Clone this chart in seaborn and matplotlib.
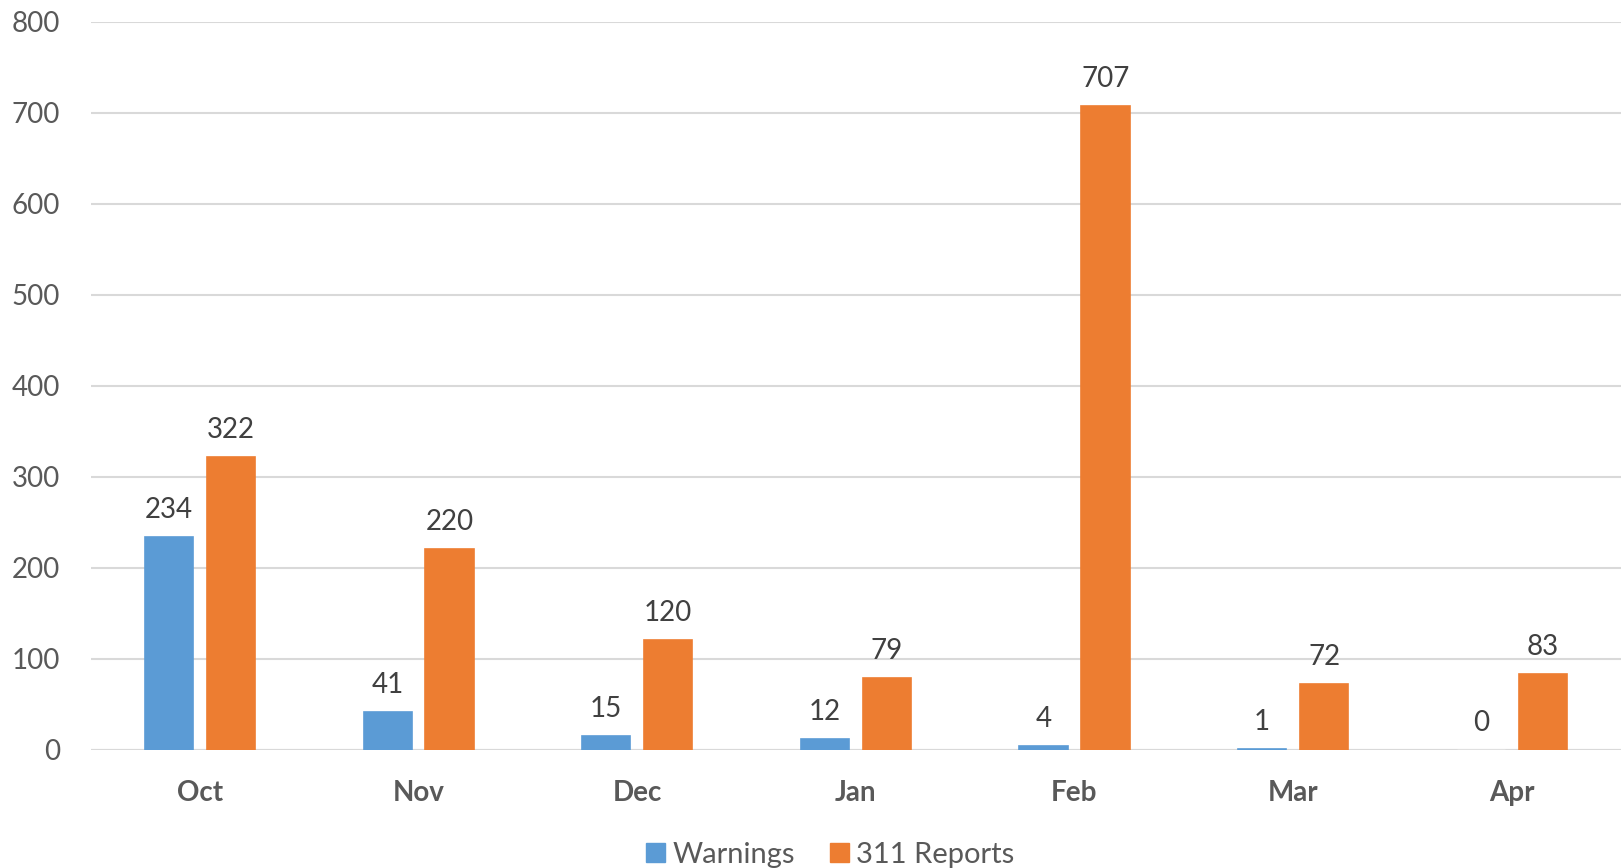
import pandas as pd
import matplotlib
matplotlib.use("Agg")
import matplotlib.pyplot as plt
import seaborn as sns

# -----------------------------------
# Data
# -----------------------------------

months = ["Oct", "Nov", "Dec", "Jan", "Feb", "Mar", "Apr"]
warnings = [234, 41, 15, 12, 4, 1, 0]
reports = [322, 220, 120, 79, 707, 72, 83]
series = ["Warnings", "311 Reports"]

df = pd.DataFrame({
    "Month": months * 2,
    "Count": warnings + reports,
    "Series": [series[0]] * len(months) + [series[1]] * len(months),
})

# -----------------------------------
# Style
# -----------------------------------

sns.set_style("white")
plt.rcParams["font.family"] = ["Lato", "DejaVu Sans"]

palette = {"Warnings": "#5B9BD5", "311 Reports": "#ED7D31"}

fig = plt.figure(figsize=(16.21, 8.68), dpi=100)
ax = fig.add_axes([0.056, 0.1365, 0.944, 0.8385])

sns.barplot(
    data=df,
    x="Month",
    y="Count",
    hue="Series",
    palette=palette,
    width=0.567,
    gap=0.22,
    saturation=1,
    ax=ax,
    legend=False,
)

# thin edge so the tiny bars (values 1 and 4) still show like in Excel
for cont in ax.containers:
    for bar in cont:
        if bar.get_height() > 0:
            bar.set_edgecolor(bar.get_facecolor())
            bar.set_linewidth(1.2)

ax.set_ylim(0, 800)
ax.set_xlim(-0.5, len(months) - 0.5)
ax.set_yticks(range(0, 801, 100))
ax.yaxis.grid(True, color="#D9D9D9", linewidth=1.5)
ax.set_axisbelow(True)
for side in ["top", "right", "left", "bottom"]:
    ax.spines[side].set_visible(False)
ax.axhline(0, color="#D9D9D9", linewidth=1.5, zorder=0)

ax.set_xlabel("")
ax.set_ylabel("")
ax.tick_params(axis="y", length=0, labelsize=20, labelcolor="#595959", pad=22)
ax.tick_params(axis="x", length=0, labelsize=20, labelcolor="#595959", pad=22)
for lbl in ax.get_xticklabels():
    lbl.set_fontweight("bold")

for cont in ax.containers:
    ax.bar_label(cont, padding=10, fontsize=20, color="#404040")

# Legend
handles = [plt.Rectangle((0, 0), 1, 1, color=palette[s]) for s in series]
fig.legend(
    handles, series,
    loc="lower center",
    bbox_to_anchor=(0.512, -0.03),
    ncol=2,
    frameon=False,
    fontsize=21,
    labelcolor="#595959",
    handlelength=0.65,
    handleheight=0.65,
    handletextpad=0.25,
    columnspacing=1.2,
)

fig.savefig("out.png", dpi=100)
